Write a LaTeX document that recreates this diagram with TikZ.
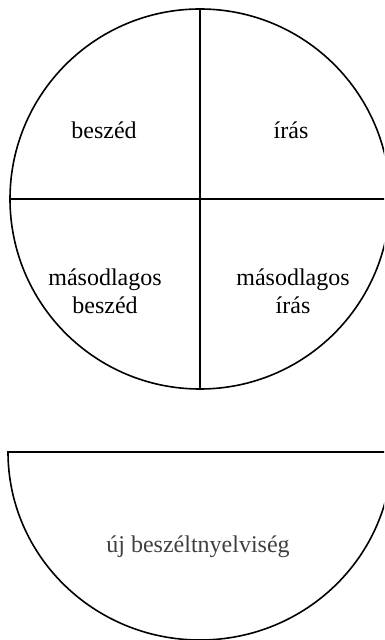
\documentclass[tikz,border=0pt]{standalone}
\usepackage{fontspec}
\setmainfont{Liberation Serif}
\begin{document}
\begin{tikzpicture}[x=0.5pt,y=-0.5pt,line width=0.8pt,
  lbl/.style={font=\fontsize{12}{14}\selectfont,align=center,inner sep=0pt},
  light/.style={lbl,text=black!75}]
\useasboundingbox (0,0) rectangle (384,640);
\clip (0,0) rectangle (384,640);
% circle with quadrants
\draw (200,199) circle[radius=190];
\coordinate (top) at (200,9);
\coordinate (bot) at (200,389);
\coordinate (lft) at (10,199);
\coordinate (rgt) at (390,199);
\draw (top) -- (bot);
\draw (lft) -- (rgt);
\node[lbl] (besz) at (104,130) {beszéd};
\node[lbl] (iras) at (291,130) {írás};
\node[lbl] (mbesz) at (105,291) {másodlagos\\beszéd};
\node[lbl] (miras) at (293,291) {másodlagos\\írás};
% half disc
\draw (8,452) -- (392,452) arc[start angle=0,end angle=180,x radius=192,y radius=188] -- cycle;
\node[light] (uj) at (198,547) {új beszéltnyelviség};
\end{tikzpicture}
\end{document}
